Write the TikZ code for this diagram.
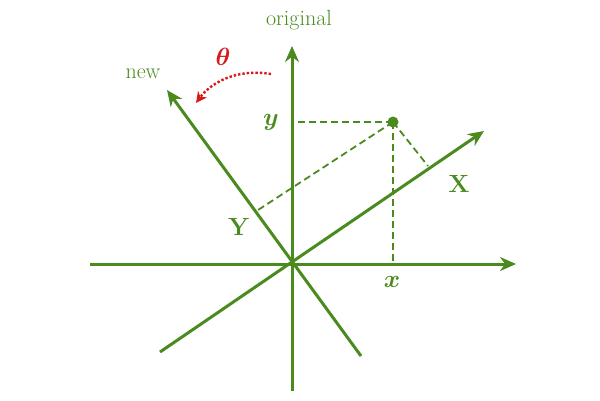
\documentclass[tikz,border=0pt]{standalone}
\usepackage{amsmath}
\usepackage{bm}
\usetikzlibrary{arrows.meta}
\definecolor{axisgreen}{HTML}{4A8A1E}
\definecolor{thetared}{HTML}{D7191C}
\begin{document}
\begin{tikzpicture}[x=1pt, y=-1pt, >=Stealth]

  % Define styles
  \tikzset{
    axis line/.style={draw=axisgreen, line width=3pt, ->, >={Stealth[length=16pt, width=14pt]}},
    guide line/.style={draw=axisgreen, line width=1.8pt, dash pattern=on 7pt off 4pt},
    axis label/.style={text=axisgreen, font=\fontsize{28}{32}\selectfont},
    word label/.style={text=axisgreen, font=\fontsize{22}{26}\selectfont},
  }

  \useasboundingbox (0,0) rectangle (600,400);

  % Original axes
  \coordinate (o) at (292,264);
  \coordinate (xs) at (90,264);
  \coordinate (xe) at (516,264);
  \coordinate (ys) at (292,391);
  \coordinate (ye) at (292,46);
  \draw[axis line] (xs) -- (xe);
  \draw[axis line] (ys) -- (ye);

  % Rotated axes
  \coordinate (Xs) at (160,352);
  \coordinate (Xe) at (484,131);
  \coordinate (Ys) at (361,356);
  \coordinate (Ye) at (167,90);
  \draw[axis line] (Xs) -- (Xe);
  \draw[axis line] (Ys) -- (Ye);

  % Point and its projections
  \node[circle, fill=axisgreen, inner sep=0pt, minimum size=11pt] (pt) at (393,122) {};
  \coordinate (py) at (292,122);
  \coordinate (px) at (393,264);
  \coordinate (pX) at (428,166);
  \coordinate (pY) at (255,212);
  \draw[guide line] (pt.center) -- (py);
  \draw[guide line] (pt.center) -- (px);
  \draw[guide line] (pt.center) -- (pX);
  \draw[guide line] (pt.center) -- (pY);

  % Labels
  \node[word label] (orig) at (299,20) {original};
  \node[word label] (new) at (143,74) {new};
  \node[axis label] (ylab) at (271,122) {$\bm{y}$};
  \node[axis label] (xlab) at (392,282) {$\bm{x}$};
  \node[axis label] (Xlab) at (459,184) {$\mathbf{X}$};
  \node[axis label] (Ylab) at (239,227) {$\mathbf{Y}$};
  \node[text=thetared, font=\fontsize{30}{34}\selectfont] (theta) at (223,57) {$\bm{\theta}$};

  % Rotation arrow
  \coordinate (rs) at (271,74);
  \coordinate (re) at (196,103);
  \draw[thetared, line width=2.4pt, dotted, ->, >={Stealth[length=11pt, width=11pt]}]
    (rs) .. controls (235,68) and (210,84) .. (re);

\end{tikzpicture}
\end{document}
